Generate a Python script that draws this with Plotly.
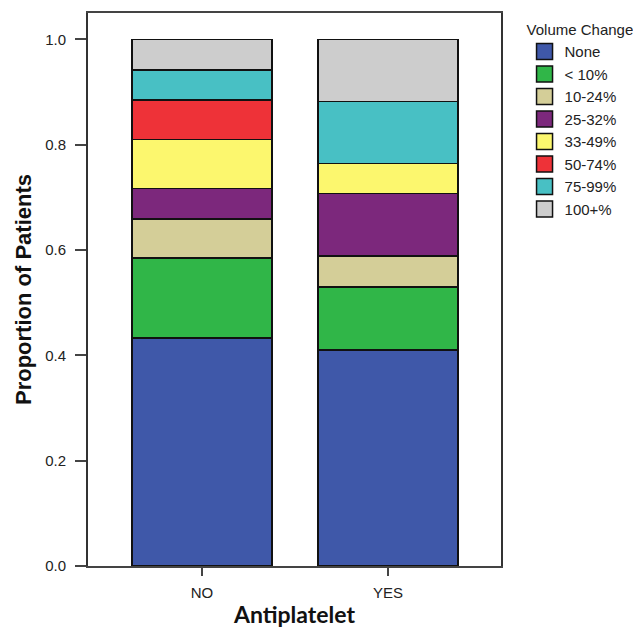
import plotly.graph_objects as go

categories = ["NO", "YES"]
series_names = ["None", "< 10%", "10-24%", "25-32%", "33-49%", "50-74%", "75-99%", "100+%"]
none_vals = [0.433, 0.410]
lt10_vals = [0.152, 0.120]
p10_24_vals = [0.074, 0.059]
p25_32_vals = [0.058, 0.118]
p33_49_vals = [0.093, 0.057]
p50_74_vals = [0.075, 0.0]
p75_99_vals = [0.057, 0.118]
p100_vals = [0.058, 0.118]
y_ticks = [0.0, 0.2, 0.4, 0.6, 0.8, 1.0]
y_tick_labels = ["0.0", "0.2", "0.4", "0.6", "0.8", "1.0"]

series_values = [none_vals, lt10_vals, p10_24_vals, p25_32_vals,
                 p33_49_vals, p50_74_vals, p75_99_vals, p100_vals]
colors = ["#3F58A9", "#30B648", "#D4CE98", "#7C287C",
          "#FCF76E", "#EE3238", "#48C0C4", "#CDCDCD"]

fig = go.Figure()
for name, vals, col in zip(series_names, series_values, colors):
    fig.add_trace(go.Bar(
        x=categories, y=vals, name=name, legendgroup=name, showlegend=False,
        marker=dict(color=col, line=dict(color="#111111", width=1.5)),
    ))
# legend-only entries with larger square swatches
for name, col in zip(series_names, colors):
    fig.add_trace(go.Scatter(
        x=[None], y=[None], mode="markers", name=name, legendgroup=name,
        marker=dict(symbol="square", size=16, color=col, line=dict(color="#111111", width=1.5)),
    ))

fig.update_layout(
    width=641, height=634,
    barmode="stack",
    bargap=0.247,
    plot_bgcolor="white",
    paper_bgcolor="white",
    margin=dict(l=80, r=148, t=3, b=76),
    font=dict(family="Liberation Sans, Arial, sans-serif", size=15, color="#222222"),
    legend=dict(
        title=dict(text="Volume Change", font=dict(size=15, color="#222222")),
        traceorder="normal",
        x=1.057, xanchor="left", y=0.995, yanchor="top",
        xref="paper", yref="paper",
        font=dict(size=15, color="#222222"),
        bgcolor="rgba(0,0,0,0)",
        itemclick=False,
    ),
    xaxis=dict(
        range=[-0.613, 1.608],
        showline=True, linecolor="#444444", linewidth=1.5, mirror=True,
        ticks="outside", ticklen=8, tickcolor="#444444", tickwidth=1.5,
        ticklabelstandoff=4,
        tickfont=dict(size=15, color="#222222"),
        title=dict(text="<b>Antiplatelet</b>", font=dict(family="Lato, sans-serif", size=23, color="#111111"), standoff=7),
        showgrid=False,
    ),
    yaxis=dict(
        range=[0, 1.05],
        tickvals=y_ticks, ticktext=y_tick_labels,
        showline=True, linecolor="#333333", linewidth=2, mirror=True,
        ticks="outside", ticklen=11, tickcolor="#444444", tickwidth=1.5,
        ticklabelstandoff=6,
        tickfont=dict(size=15, color="#222222"),
        title=dict(text="<b>Proportion of Patients</b>", font=dict(family="Liberation Sans, Arial, sans-serif", size=22, color="#111111"), standoff=7),
        showgrid=False, zeroline=False,
    ),
)

fig.write_html("out.html")
